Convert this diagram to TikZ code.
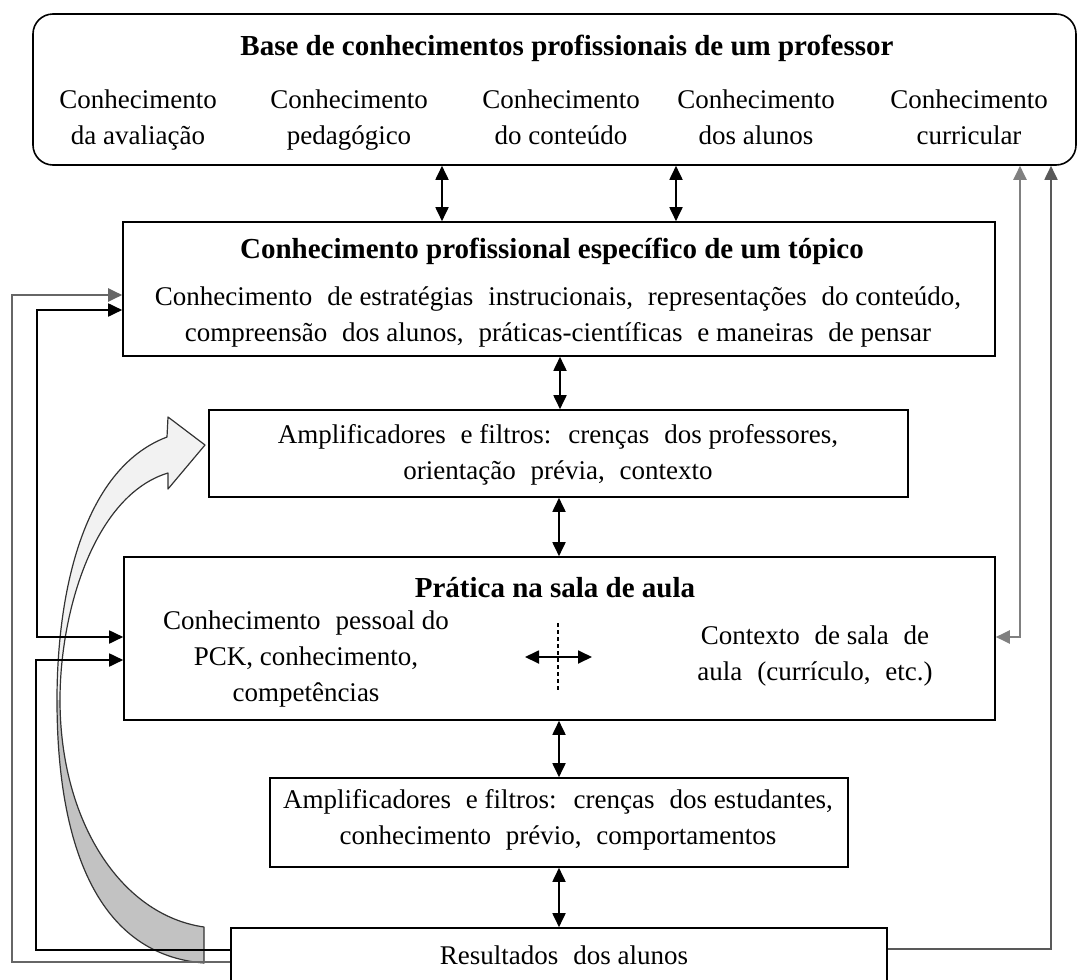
\documentclass[tikz,border=0pt]{standalone}
\usepackage{fontspec}
\setmainfont{Liberation Serif}
\usetikzlibrary{arrows.meta}
\newcommand\ws{\hspace{0.3em}}
\begin{document}
\begin{tikzpicture}[x=0.5pt,y=-0.5pt,
  box/.style={draw=black, line width=0.8pt, inner sep=0pt},
  txt/.style={font=\fontsize{13.5}{18}\selectfont, align=center, inner sep=0pt},
  ttl/.style={font=\fontsize{14.5}{18}\selectfont\bfseries, inner sep=0pt},
  tip/.style={line width=0.9pt, -{Triangle[length=7pt,width=6.5pt]}},
  dtip/.style={line width=0.9pt, {Triangle[length=7pt,width=6.5pt]}-{Triangle[length=7pt,width=6.5pt]}},
]
\useasboundingbox (0,0) rectangle (1078,980);
\clip (0,0) rectangle (1078,980);

% curved block arrow
\fill[black!5] (205,445) -- (168,489) -- (168,473) .. controls (95,495) and (60,610) .. (60,700)
  -- (57,700) .. controls (57,600) and (80,470) .. (167,437) -- (168,417) -- cycle;
\fill[black!24] (60,700) .. controls (60,820) and (120,915) .. (204,927) -- (204,963)
  .. controls (100,955) and (57,850) .. (57,700) -- cycle;
\draw[black!80, line width=0.6pt, line join=round] (205,445) -- (168,489) -- (168,473)
  .. controls (95,495) and (60,610) .. (60,700)
  .. controls (60,820) and (120,915) .. (204,927) -- (204,963)
  .. controls (100,955) and (57,850) .. (57,700)
  .. controls (57,600) and (80,470) .. (167,437) -- (168,417) -- cycle;

% boxes
\node[box, rounded corners=10pt, minimum width=521.5pt, minimum height=75.5pt] (top) at (554.5,89.5) {};
\node[ttl] (topt) at (567,48) {Base de conhecimentos profissionais de um professor};
\node[txt] (k1) at (138,119) {\strut Conhecimento\\\strut da avaliação};
\node[txt] (k2) at (349,119) {\strut Conhecimento\\\strut pedagógico};
\node[txt] (k3) at (561,119) {\strut Conhecimento\\\strut do conteúdo};
\node[txt] (k4) at (756,119) {\strut Conhecimento\\\strut dos alunos};
\node[txt] (k5) at (969,119) {\strut Conhecimento\\\strut curricular};

\node[box, minimum width=436pt, minimum height=67pt] (b2) at (559,289) {};
\node[ttl] (b2t) at (552,251) {Conhecimento profissional específico de um tópico};
\node[txt] (b2x) at (558,316) {\strut Conhecimento\ws{} de estratégias\ws{} instrucionais,\ws{} representações\ws{} do conteúdo,\\\strut compreensão\ws{} dos alunos,\ws{} práticas-científicas\ws{} e maneiras\ws{} de pensar};

\node[box, minimum width=349.5pt, minimum height=43.5pt] (b3) at (558.5,453.5) {};
\node[txt] (b3x) at (558,454) {\strut Amplificadores\ws{} e filtros:\ws{} crenças\ws{} dos professores,\\\strut orientação\ws{} prévia,\ws{} contexto};

\node[box, minimum width=435.5pt, minimum height=81.5pt] (pr) at (559.5,638.5) {};
\node[ttl] (prt) at (555,588) {Prática na sala de aula};
\node[txt] (prl) at (306,658) {\strut Conhecimento\ws{} pessoal do\\\strut PCK, conhecimento,\\\strut competências};
\node[txt] (prr) at (815,655) {\strut Contexto\ws{} de sala\ws{} de\\\strut aula\ws{} (currículo,\ws{} etc.)};

\node[box, minimum width=289pt, minimum height=44.5pt] (b5) at (559,822.5) {};
\node[txt] (b5x) at (558,819) {\strut Amplificadores\ws{} e filtros:\ws{} crenças\ws{} dos estudantes,\\\strut conhecimento\ws{} prévio,\ws{} comportamentos};

\node[box, minimum width=328pt, minimum height=36pt] (res) at (559,964) {};
\node[txt] (rest) at (564,957) {\strut Resultados\ws{} dos alunos};

% vertical double arrows
\draw[dtip] (top.south -| 442,0) -- (b2.north -| 442,0);
\draw[dtip] (top.south -| 676,0) -- (b2.north -| 676,0);
\draw[dtip] (b2.south -| 560,0) -- (b3.north -| 560,0);
\draw[dtip] (b3.south -| 559,0) -- (pr.north -| 559,0);
\draw[dtip] (pr.south -| 559,0) -- (b5.north -| 559,0);
\draw[dtip] (b5.south -| 559,0) -- (res.north -| 559,0);

% left feedback lines
\draw[tip, draw=black!60, line width=1.1pt] (res.west |- 0,962) -- (12,962) -- (12,295) -- (b2.west |- 0,295);
\draw[dtip] (b2.west |- 0,310) -- (37,310) -- (37,637) -- (pr.west |- 0,637);
\draw[tip] (res.west |- 0,950) -- (36,950) -- (36,660) -- (pr.west |- 0,660);

% right feedback lines
\draw[dtip, draw=black!50, line width=1.1pt] (pr.east |- 0,637) -- (1020,637) -- (1020,0 |- top.south);
\draw[tip, draw=black!65] (res.east |- 0,949) -- (1051,949) -- (1051,0 |- top.south);

% centre cross
\coordinate (cl) at (525,657);
\coordinate (cr) at (592,657);
\coordinate (cu) at (558,623);
\coordinate (cd) at (558,692);
\draw[dtip] (cl) -- (cr);
\draw[line width=0.6pt, dash pattern=on 2pt off 1.5pt] (cu) -- (cd);
\end{tikzpicture}
\end{document}
